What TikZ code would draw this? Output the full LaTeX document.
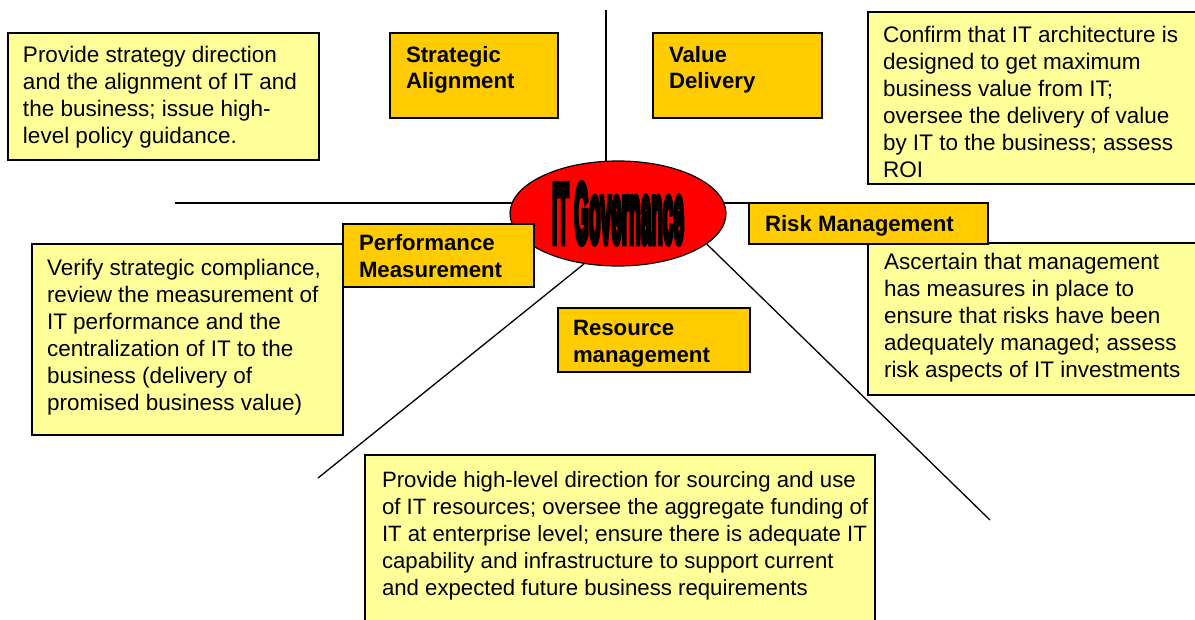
\documentclass[tikz,border=0pt]{standalone}
\usepackage{fontspec}
\setmainfont{Liberation Sans}
\newfontfamily\wordart[BoldFeatures={FakeBold=10}]{Liberation Sans}
\usetikzlibrary{shapes.geometric,backgrounds}

\definecolor{notefill}{HTML}{FFFF99}
\definecolor{titlefill}{HTML}{FFCC00}
\definecolor{govred}{HTML}{FF0000}

% text block of fixed size, set from the top left with a given top gap;
% lines are broken only where \\ is written
\newcommand{\panel}[4]{\makebox[#1][l]{\begin{minipage}[t][#2][t]{\dimexpr#1+120pt\relax}\raggedright\vspace*{#3}#4\end{minipage}}}

\tikzset{
  basebox/.style={draw=black, line width=1.2pt, anchor=north west,
    inner ysep=0pt, outer sep=0pt},
  notebox/.style={basebox, fill=notefill, inner xsep=15pt,
    font=\fontsize{22.5pt}{27pt}\selectfont},
  titlebox/.style={basebox, fill=titlefill, inner xsep=16pt,
    font=\fontsize{22.2pt}{26.7pt}\selectfont\bfseries},
  spoke/.style={draw=black, line width=1.3pt},
  hub/.style={ellipse, draw=black, line width=1.2pt, fill=govred,
    minimum width=216pt, minimum height=105pt, inner sep=0pt},
}

\begin{document}
\begin{tikzpicture}[x=1pt, y=-1pt]
\useasboundingbox (0,0) rectangle (1195,619);
\clip (0,0) rectangle (1195,619);

% central hub
\node[hub] (gov) at (618,213.5)
  {\raisebox{-2pt}{\resizebox{132pt}{58pt}{\wordart\bfseries IT Governance}}};

% free ends of the spokes
\coordinate (top end) at (606,10);
\coordinate (left end) at (175,203);
\coordinate (sw end) at (318,478);
\coordinate (se end) at (990,520);

% descriptions
\node[notebox] (align note) at (8,33)
  {\panel{281pt}{127pt}{13.5pt}{Provide strategy direction\\and the alignment of IT and\\the business; issue high-\\level policy guidance.}};
\node[notebox] (value note) at (868,12)
  {\panel{310pt}{172pt}{14.3pt}{Confirm that IT architecture is\\designed to get maximum\\business value from IT;\\oversee the delivery of value\\by IT to the business; assess\\ROI}};
\node[notebox, inner xsep=16pt] (risk note) at (868,243)
  {\panel{308pt}{152pt}{10.4pt}{Ascertain that management\\has measures in place to\\ensure that risks have been\\adequately managed; assess\\risk aspects of IT investments}};
\node[notebox] (perf note) at (32,244)
  {\panel{281pt}{191pt}{14.7pt}{Verify strategic compliance,\\review the measurement of\\IT performance and the\\centralization of IT to the\\business (delivery of\\promised business value)}};
\node[notebox, inner xsep=17pt, font=\fontsize{22.2pt}{27pt}\selectfont] (res note) at (365,455)
  {\panel{476pt}{180pt}{16.6pt}{Provide high-level direction for sourcing and use\\of IT resources; oversee the aggregate funding of\\IT at enterprise level; ensure there is adequate IT\\capability and infrastructure to support current\\and expected future business requirements}};

% domain titles
\node[titlebox] (align) at (390,33)
  {\panel{136pt}{85pt}{13pt}{Strategic\\Alignment}};
\node[titlebox] (value) at (653,33)
  {\panel{137pt}{85pt}{13pt}{Value\\Delivery}};
\node[titlebox] (risk) at (749,203)
  {\panel{207pt}{41pt}{12.5pt}{Risk Management}};
\node[titlebox] (perf) at (343,224)
  {\panel{159pt}{63pt}{10.4pt}{Performance\\Measurement}};
\node[titlebox, inner xsep=15pt] (res) at (558,308)
  {\panel{162pt}{64pt}{12.5pt}{Resource\\management}};

% spokes, kept under the hub and the boxes
\begin{pgfonlayer}{background}
  \draw[spoke] (top end) -- (top end |- gov.center);
  \draw[spoke] (left end) -- (left end -| gov.center);
  \draw[spoke] (risk.north west) -- (risk.north west -| gov.center);
  \draw[spoke] (sw end) -- (gov.-124.7);
  \draw[spoke] (se end) -- (gov.-19);
\end{pgfonlayer}
\end{tikzpicture}
\end{document}
